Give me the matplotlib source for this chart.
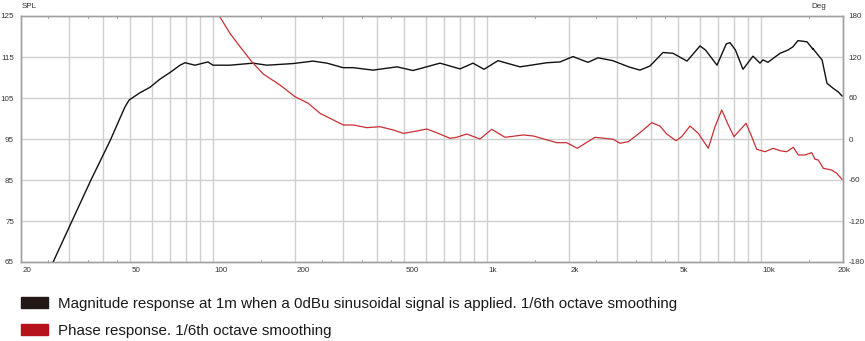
import matplotlib
matplotlib.use("Agg")
import matplotlib.pyplot as plt
from matplotlib.patches import Rectangle
import numpy as np

plt.rcParams['font.family'] = ['Liberation Sans', 'DejaVu Sans']

# Magnitude response (Hz, dB SPL)
mag_freq = [26.2, 30.7, 36.0, 42.3, 45.9, 47.9, 49.6, 54.4, 59.1, 64.3, 69.9, 76.1, 79.4,
            86.3, 96.2, 100.4, 115.8, 140.6, 158, 196.6, 232.6, 261.8, 299.3, 325.6, 385.3,
            471.4, 539.2, 676.5, 800.5, 892.6, 979.3, 1101, 1325, 1662, 1855, 2068, 2346,
            2552, 2894, 3300, 3631, 3950, 4406, 4794, 5392, 6014, 6300, 6936, 7500, 7738,
            8100, 8630, 9388, 9956, 10210, 10640, 11780, 12600, 13140, 13700, 14780, 15540,
            15500, 16770, 17480, 18390, 19200, 19840]
mag_db = [65, 75, 85, 94.6, 100.0, 102.8, 104.5, 106.3, 107.6, 109.6, 111.2, 113.0, 113.6,
          113.0, 113.8, 113.0, 113.0, 113.5, 113.0, 113.4, 114.0, 113.5, 112.4, 112.4, 111.8,
          112.6, 111.7, 113.5, 112.1, 113.5, 112.0, 114.1, 112.6, 113.6, 113.8, 115.1, 113.7,
          114.8, 114.1, 112.6, 111.8, 112.8, 116.1, 115.9, 114.0, 117.7, 116.7, 113.0, 118.2, 118.5,
          116.7, 112.0, 115.2, 113.5, 114.3, 113.7, 115.9, 116.7, 117.5, 119.0, 118.7, 116.9,
          117.1, 114.3, 108.6, 107.4, 106.5, 105.5]

# Phase response (Hz, degrees)
ph_freq = [100, 105.9, 115.8, 126.0, 139.0, 153.2, 176.3, 200, 223.6, 246.8, 268.5, 300.2,
           326.6, 365.4, 408.6, 457.0, 497, 540.6, 605, 658, 735.8, 778.4, 846.6, 946.8,
           1045, 1168, 1363, 1482, 1804, 1962, 2144, 2488, 2902, 3070, 3292, 3631, 4008,
           4296, 4545, 4916, 5156, 5528, 5926, 6448, 6822, 7218, 7628, 8002, 8418, 8852,
           9288, 9684, 10380, 11130, 11780, 12460, 13170, 13740, 14530, 15370, 15810, 16250,
           16950, 18190, 18970, 19840]
ph_deg = [195, 180, 154.6, 135.1, 113.2, 95.1, 79.0, 61.9, 52.2, 37.6, 30.3, 20.5,
          20.5, 16.6, 18.0, 13.2, 8.3, 10.7, 14.6, 9.2, 1.0, 2.5, 7.3, 0,
          14.2, 2.5, 5.9, 4.4, -5.4, -5.4, -13.6, 2.5, -0.4, -6.3, -3.9, 9.3, 23.9,
          19.0, 7.3, -2.5, 3.4, 19.0, 8.3, -13.6, 18.0, 42.4, 20.5, 3.4, 13.2, 23.0,
          3.4, -15.1, -18.6, -13.6, -17.1, -18.6, -12.1, -23.4, -23.4, -20.0, -29.7, -30.7,
          -42.9, -45.4, -50.2, -59.0]

x_ticks = [20, 50, 100, 200, 500, 1000, 2000, 5000, 10000, 20000]
x_labels = ['20', '50', '100', '200', '500', '1k', '2k', '5k', '10k', '20k']
spl_ticks = [65, 75, 85, 95, 105, 115, 125]
deg_ticks = [-180, -120, -60, 0, 60, 120, 180]

legend_labels = ['Magnitude response at 1m when a 0dBu sinusoidal signal is applied. 1/6th octave smoothing',
                 'Phase response. 1/6th octave smoothing']

W, H = 865, 341
fig = plt.figure(figsize=(W / 100, H / 100), dpi=100)
ax = fig.add_axes([21 / W, 1 - 262 / H, (843 - 21) / W, (262 - 16) / H])
ax.set_xscale('log')
ax.set_xlim(20, 20000)
ax.set_ylim(65, 125)

grid_c = '#cfcfcf'
# vertical grid at 1..9 multiples
for dec in [10, 100, 1000, 10000]:
    for k in range(1, 10):
        f = k * dec
        if 20 < f < 20000:
            ax.axvline(f, color=grid_c, lw=1.0, zorder=0)
for v in spl_ticks[1:-1]:
    ax.axhline(v, color=grid_c, lw=1.0, zorder=0)

ax.plot(mag_freq, mag_db, color='#111111', lw=1.0, zorder=3)

ax2 = ax.twinx()
ax2.set_ylim(-180, 180)
ax2.plot(ph_freq, ph_deg, color='#c83034', lw=0.9, zorder=2)
ax2.set_xlim(20, 20000)

for a in (ax, ax2):
    for s in a.spines.values():
        s.set_color('#a0a0a0')
        s.set_linewidth(1.0)

tick_fs = 5.8
# ticks
ax.set_xticks([])
ax.set_xticks([], minor=True)
ax.minorticks_off()
ax.set_yticks(spl_ticks)
ax.set_yticklabels([str(v) for v in spl_ticks])
ax.tick_params(axis='y', length=0, pad=5, labelsize=tick_fs, labelcolor='#333333')
ax2.set_yticks(deg_ticks)
ax2.set_yticklabels([str(v) for v in deg_ticks])
ax2.tick_params(axis='y', length=0, pad=4, labelsize=tick_fs, labelcolor='#333333')

trans = ax.get_xaxis_transform()
for f, lab in zip(x_ticks, x_labels):
    ha = 'center' if f == 20000 else 'left'
    dx = 1.5 if f != 20000 else 1
    ax.annotate(lab, (f, 0), xycoords=trans, xytext=(dx, -8), textcoords='offset pixels',
                ha=ha, va='center', fontsize=tick_fs, color='#333333')

# small half-step ticks on top and bottom
for dec in [10, 100, 1000, 10000]:
    for k in [1.5, 2.5, 3.5, 4.5]:
        f = k * dec
        if 20 < f < 20000:
            ax.plot([f, f], [0, 0.008], transform=trans, color='#b0b0b0', lw=0.8, clip_on=False)
            ax.plot([f, f], [0.992, 1], transform=trans, color='#b0b0b0', lw=0.8, clip_on=False)

fig.text(22 / W, 1 - 6 / H, 'SPL', fontsize=tick_fs, color='#333333', ha='left', va='center')
fig.text(826 / W, 1 - 6 / H, 'Deg', fontsize=tick_fs, color='#333333', ha='right', va='center')

# legend
cols = ['#231815', '#b5121b']
rect_top = [297, 324]
baselines = [308, 335]
for c, rt, bl, lab in zip(cols, rect_top, baselines, legend_labels):
    fig.patches.append(Rectangle((21 / W, 1 - (rt + 10.5) / H), 27 / W, 10.5 / H,
                                 transform=fig.transFigure, color=c))
    fig.text(58 / W, 1 - bl / H, lab, fontsize=10.9, color='#1a1a1a', ha='left', va='baseline')

fig.savefig('out.png', dpi=100)
